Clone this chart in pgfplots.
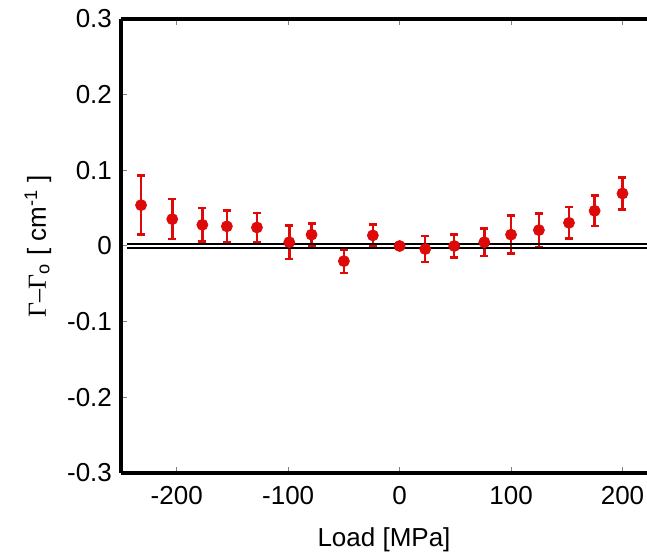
\documentclass[border=0pt]{standalone}
\usepackage{pgfplots}
\pgfplotsset{compat=1.18}
\usepackage{fontspec}
\setmainfont{Liberation Sans}
\newfontfamily\tms{Liberation Serif}
\definecolor{ptred}{RGB}{222,10,10}

\pgfplotstableread{
x     y       e
-232  0.054   0.039
-204  0.0355  0.0265
-177  0.028   0.022
-155  0.026   0.021
-128  0.0245  0.019
-99   0.005   0.022
-79   0.015   0.015
-50   -0.020  0.0155
-24   0.014   0.0145
0     0.0     0.0
23    -0.004  0.017
49    0.0     0.015
76    0.005   0.018
100   0.015   0.025
125   0.021   0.022
152   0.0306  0.021
175   0.0465  0.020
200   0.0694  0.021
}\gammadata

\begin{document}
\fontsize{13}{15}\selectfont
\begin{tikzpicture}
\begin{axis}[
  name=ax,
  scale only axis, width=263pt, height=227pt,
  xmin=-250, xmax=222, ymin=-0.3, ymax=0.3,
  axis x line=box, axis y line=left,
  axis line style={line width=1.6pt, -},
  xtick={-200,-100,0,100,200},
  xticklabels={-200,-100,0,100,200},
  ytick={-0.3,-0.2,-0.1,0,0.1,0.2,0.3},
  yticklabels={-0.3,-0.2,-0.1,0,0.1,0.2,0.3},
  tick align=inside, major tick length=3pt,
  tick style={gray, line width=0.5pt},
  tick label style={font=\fontsize{13}{15}\selectfont},
  xticklabel style={yshift=-2pt, inner xsep=0pt},
  label style={font=\fontsize{13}{15}\selectfont},
  xlabel={Load [MPa]},
  xlabel style={at={(axis description cs:0.5,-0.1476)}, anchor=center},
  ylabel={{\tms Γ–Γ}\textsubscript{o} [ cm\textsuperscript{-1} ]},
  ylabel style={at={(axis description cs:-0.158,0.5)}, anchor=center},
]
\addplot[ptred, only marks, mark=*, mark size=2.75pt,
  error bars/.cd, y dir=both, y explicit,
  error bar style={line width=1.25pt, ptred},
  error mark options={rotate=90, mark size=2pt, line width=1.25pt, ptred}]
  table[x=x, y=y, y error=e] {\gammadata};
\addplot[black, line width=0.8pt] coordinates {(-245,0.0025) (222,0.0025)};
\addplot[black, line width=0.8pt] coordinates {(-245,-0.0025) (222,-0.0025)};
\end{axis}
\pgfresetboundingbox
\useasboundingbox ([xshift=-60.5pt,yshift=-41.5pt]ax.south west) rectangle ([yshift=9.5pt]ax.north east);
\end{tikzpicture}
\end{document}
